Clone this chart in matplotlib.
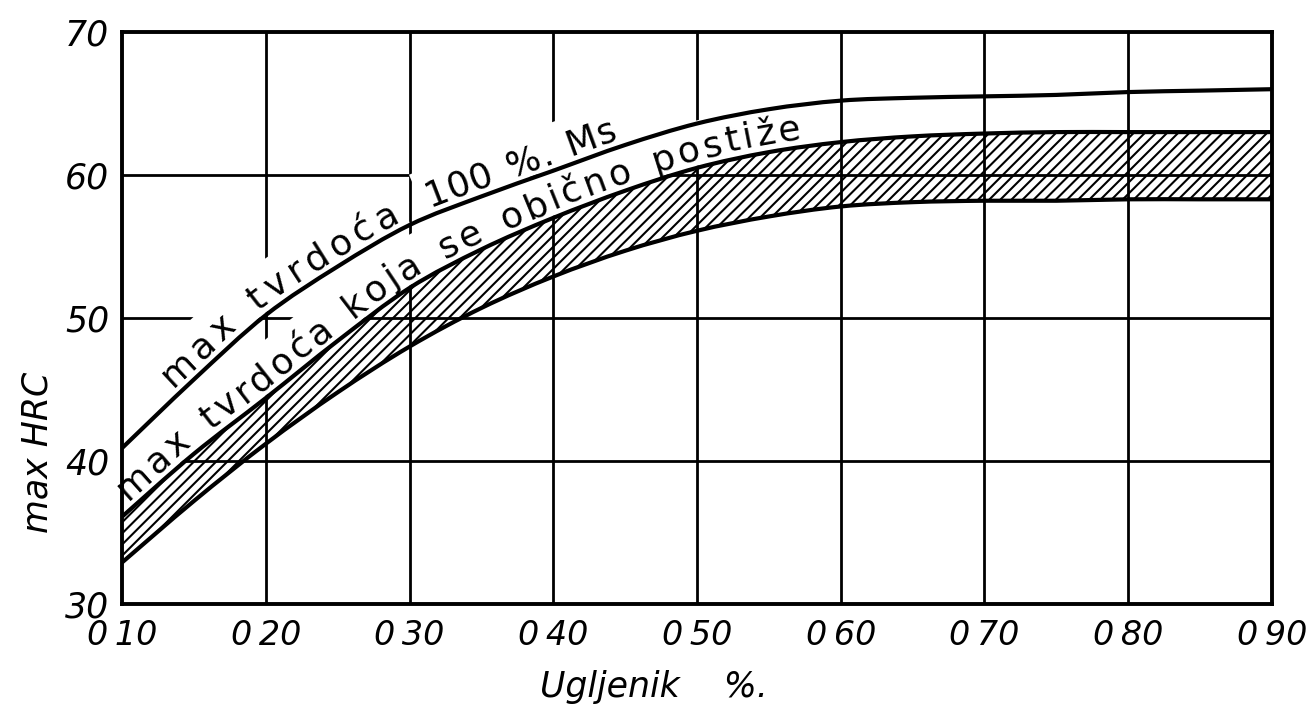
import numpy as np
import matplotlib
matplotlib.use("Agg")
import matplotlib.pyplot as plt
from matplotlib.font_manager import FontProperties
from matplotlib.path import Path
from matplotlib.patches import PathPatch

# carbon content (%) and hardness readings
carbon = [0.10, 0.15, 0.20, 0.25, 0.30, 0.35, 0.40, 0.45, 0.50,
          0.55, 0.60, 0.65, 0.70, 0.75, 0.80, 0.85, 0.90]
hrc_full_ms = [40.9, 45.7, 50.2, 53.6, 56.5, 58.5, 60.3, 62.1, 63.6,
               64.6, 65.2, 65.4, 65.5, 65.6, 65.8, 65.9, 66.0]
hrc_usual_top = [36.1, 40.5, 44.4, 48.4, 52.1, 54.8, 57.0, 58.9, 60.5,
                 61.6, 62.3, 62.7, 62.9, 63.0, 63.0, 63.0, 63.0]
hrc_usual_bottom = [32.9, 37.2, 41.2, 44.8, 48.0, 50.7, 52.9, 54.7, 56.1,
                    57.1, 57.8, 58.1, 58.2, 58.2, 58.3, 58.3, 58.3]

x_ticks = [0.10, 0.20, 0.30, 0.40, 0.50, 0.60, 0.70, 0.80, 0.90]
x_ticklabels = ["0\u200910", "0\u200920", "0\u200930", "0\u200940", "0\u200950",
                "0\u200960", "0\u200970", "0\u200980", "0\u200990"]
y_ticks = [30, 40, 50, 60, 70]
y_ticklabels = ["30", "40", "50", "60", "70"]

label_full_ms = [("max tvrdoća", 0.139, 0.297), ("100 %. Ms", 0.316, 0.447)]
label_usual = [("max tvrdoća koja se obično postiže", 0.108, 0.574)]

plt.rcParams["hatch.linewidth"] = 1.5
plt.rcParams["font.family"] = "DejaVu Sans"


def bezier_verts(xs, ys):
    """Catmull-Rom through the points, as cubic Bezier vertices."""
    p = np.column_stack([xs, ys]).astype(float)
    ext = np.vstack([p[0], p, p[-1]])
    verts = [p[0]]
    for i in range(len(p) - 1):
        a, b, c, d = ext[i], ext[i + 1], ext[i + 2], ext[i + 3]
        verts += [b + (c - a) / 6, c - (d - b) / 6, c]
    return np.array(verts)


def curve_path(xs, ys):
    v = bezier_verts(xs, ys)
    codes = [Path.MOVETO] + [Path.CURVE4] * (len(v) - 1)
    return Path(v, codes)


def band_path(xs, lo, hi):
    top = bezier_verts(xs, hi)
    bot = bezier_verts(xs, lo)[::-1]
    verts = np.vstack([top, bot, top[:1]])
    codes = ([Path.MOVETO] + [Path.CURVE4] * (len(top) - 1) + [Path.LINETO]
             + [Path.CURVE4] * (len(bot) - 1) + [Path.CLOSEPOLY])
    return Path(verts, codes)


def dense_curve(xs, ys, n=24):
    v = bezier_verts(xs, ys)
    t = np.linspace(0, 1, n, endpoint=False)[:, None]
    out = []
    for i in range(0, len(v) - 1, 3):
        p0, p1, p2, p3 = v[i], v[i + 1], v[i + 2], v[i + 3]
        out.append((1 - t) ** 3 * p0 + 3 * (1 - t) ** 2 * t * p1
                   + 3 * (1 - t) * t ** 2 * p2 + t ** 3 * p3)
    out.append(v[-1:])
    return np.vstack(out)


fig = plt.figure(figsize=(13.15, 7.13), dpi=100)
ax = fig.add_axes([122 / 1315, 109 / 713, 1150 / 1315, 572 / 713])
ax.set_xlim(0.10, 0.90)
ax.set_ylim(30, 70)

ax.add_patch(PathPatch(band_path(carbon, hrc_usual_bottom, hrc_usual_top),
                       facecolor="white", edgecolor="black", hatch="///",
                       linewidth=0, zorder=1))

for xv in x_ticks[1:-1]:
    ax.axvline(xv, color="black", lw=2.0, zorder=2)
for yv in y_ticks[1:-1]:
    ax.axhline(yv, color="black", lw=2.0, zorder=2)

for series in (hrc_full_ms, hrc_usual_top, hrc_usual_bottom):
    ax.add_patch(PathPatch(curve_path(carbon, series), fill=False,
                           edgecolor="black", lw=3.0, zorder=5))

for sp in ax.spines.values():
    sp.set_linewidth(2.8)
    sp.set_zorder(6)

ax.set_xticks(x_ticks, x_ticklabels, fontsize=24, style="italic")
ax.set_yticks(y_ticks, y_ticklabels, fontsize=25, style="italic")
ax.tick_params(length=0)
ax.tick_params(axis="x", pad=11)
ax.tick_params(axis="y", pad=9)


def label_along(ax, xs, ys, text, x_from, x_to, size=26, lift=8, strip=46):
    """Write text letter by letter along a curve, over a white strip."""
    fp = FontProperties(family="DejaVu Sans", size=size)
    renderer = ax.figure.canvas.get_renderer()
    size_px = size * ax.figure.dpi / 72
    curve = dense_curve(xs, ys)
    pts = ax.transData.transform(curve)
    s = np.concatenate([[0], np.cumsum(np.hypot(*np.diff(pts, axis=0).T))])

    def at(d):
        return np.array([np.interp(d, s, pts[:, 0]), np.interp(d, s, pts[:, 1])])

    def frame(d):
        v = at(d + 10) - at(d - 10)
        v = v / np.hypot(*v)
        return v, np.array([-v[1], v[0]])

    s0 = np.interp(x_from, curve[:, 0], s)
    s1 = np.interp(x_to, curve[:, 0], s)

    widths = []
    for ch in text:
        if ch == " ":
            widths.append(0.45 * size_px)
        else:
            w, _, _ = renderer.get_text_width_height_descent(ch, fp, ismath=False)
            widths.append(w)
    spare = (s1 - s0 - sum(widths)) / max(len(text) - 1, 1)

    # white strip that breaks the grid behind the lettering
    d = np.linspace(s0 - 6, s1 + 6, 60)
    lower = np.array([at(v) + frame(v)[1] * 2 for v in d])
    upper = np.array([at(v) + frame(v)[1] * strip for v in d])
    poly = ax.transData.inverted().transform(np.vstack([lower, upper[::-1]]))
    ax.fill(poly[:, 0], poly[:, 1], color="white", lw=0, zorder=3)

    pos = s0
    for ch, w in zip(text, widths):
        c = pos + w / 2
        t, n = frame(c)
        q = ax.transData.inverted().transform(at(c) + n * lift)
        ax.text(q[0], q[1], ch, fontproperties=fp,
                rotation=np.degrees(np.arctan2(t[1], t[0])),
                rotation_mode="anchor", ha="center", va="baseline", zorder=4)
        pos += w + spare


for text, x0, x1 in label_full_ms:
    label_along(ax, carbon, hrc_full_ms, text, x0, x1)
for text, x0, x1 in label_usual:
    label_along(ax, carbon, hrc_usual_top, text, x0, x1)

fig.text(38 / 1315, 1 - 452 / 713, "max HRC", rotation=90, ha="center",
         va="center", fontsize=25, style="italic")
fig.text(540 / 1315, 1 - 697 / 713, "Ugljenik    %.", ha="left",
         va="baseline", fontsize=25, style="italic")

fig.savefig("out.png", dpi=100)
